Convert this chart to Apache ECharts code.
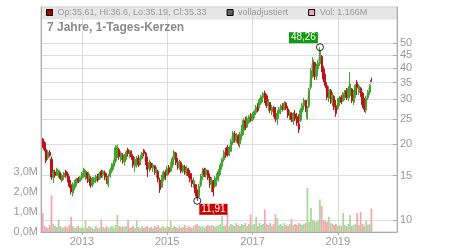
<!DOCTYPE html>
<html><head><meta charset="utf-8">
<script src="https://cdn.jsdelivr.net/npm/echarts@6/dist/echarts.min.js"></script>
<style>html,body{margin:0;padding:0;background:#fff}#c{width:450px;height:250px}</style>
</head><body><div id="c"></div>
<script>
const dates = [
'2012-02-01','2012-02-16','2012-03-01','2012-03-16','2012-04-01','2012-04-16','2012-05-01','2012-05-16','2012-06-01','2012-06-16','2012-07-01','2012-07-16','2012-08-01','2012-08-16','2012-09-01','2012-09-16','2012-10-01','2012-10-16','2012-11-01','2012-11-16','2012-12-01','2012-12-16',
'2013-01-01','2013-01-16','2013-02-01','2013-02-16','2013-03-01','2013-03-16','2013-04-01','2013-04-16','2013-05-01','2013-05-16','2013-06-01','2013-06-16','2013-07-01','2013-07-16','2013-08-01','2013-08-16','2013-09-01','2013-09-16','2013-10-01','2013-10-16','2013-11-01','2013-11-16','2013-12-01','2013-12-16',
'2014-01-01','2014-01-16','2014-02-01','2014-02-16','2014-03-01','2014-03-16','2014-04-01','2014-04-16','2014-05-01','2014-05-16','2014-06-01','2014-06-16','2014-07-01','2014-07-16','2014-08-01','2014-08-16','2014-09-01','2014-09-16','2014-10-01','2014-10-16','2014-11-01','2014-11-16','2014-12-01','2014-12-16',
'2015-01-01','2015-01-16','2015-02-01','2015-02-16','2015-03-01','2015-03-16','2015-04-01','2015-04-16','2015-05-01','2015-05-16','2015-06-01','2015-06-16','2015-07-01','2015-07-16','2015-08-01','2015-08-16','2015-09-01','2015-09-16','2015-10-01','2015-10-16','2015-11-01','2015-11-16','2015-12-01','2015-12-16',
'2016-01-01','2016-01-16','2016-02-01','2016-02-16','2016-03-01','2016-03-16','2016-04-01','2016-04-16','2016-05-01','2016-05-16','2016-06-01','2016-06-16','2016-07-01','2016-07-16','2016-08-01','2016-08-16','2016-09-01','2016-09-16','2016-10-01','2016-10-16','2016-11-01','2016-11-16','2016-12-01','2016-12-16',
'2017-01-01','2017-01-16','2017-02-01','2017-02-16','2017-03-01','2017-03-16','2017-04-01','2017-04-16','2017-05-01','2017-05-16','2017-06-01','2017-06-16','2017-07-01','2017-07-16','2017-08-01','2017-08-16','2017-09-01','2017-09-16','2017-10-01','2017-10-16','2017-11-01','2017-11-16','2017-12-01','2017-12-16',
'2018-01-01','2018-01-16','2018-02-01','2018-02-16','2018-03-01','2018-03-16','2018-04-01','2018-04-16','2018-05-01','2018-05-16','2018-06-01','2018-06-16','2018-07-01','2018-07-16','2018-08-01','2018-08-16','2018-09-01','2018-09-16','2018-10-01','2018-10-16','2018-11-01','2018-11-16','2018-12-01','2018-12-16',
'2019-01-01','2019-01-16','2019-02-01','2019-02-16','2019-03-01','2019-03-16','2019-04-01','2019-04-16','2019-05-01','2019-05-16','2019-06-01','2019-06-16','2019-07-01','2019-07-16','2019-08-01','2019-08-16','2019-09-01','2019-09-16','2019-10-01','2019-10-16'
];
// [open, close, low, high]
const candles = [
[20.9,19.5,19.3,21.1],[20.2,19.0,18.7,20.5],[19.0,17.2,16.8,19.4],[17.6,18.6,17.3,18.9],[18.5,18.0,17.8,18.9],[17.4,14.8,14.4,17.8],[14.7,15.5,14.0,15.8],[15.5,15.0,14.7,15.8],[15.0,15.9,14.9,16.1],[15.2,15.7,14.7,15.8],[15.3,14.6,14.4,15.5],[14.3,15.0,14.1,15.2],[14.8,15.3,14.4,15.5],[15.6,15.0,14.7,15.8],[15.2,14.4,14.1,15.5],[14.6,13.6,13.4,14.9],[13.8,12.9,12.6,14.4],[12.8,13.8,12.4,14.1],[13.4,14.1,13.1,14.4],[14.0,14.5,13.6,14.7],[14.6,14.2,14.0,14.8],[14.2,14.7,14.1,14.9],
[14.6,15.3,14.4,15.5],[15.4,15.9,14.7,16.1],[14.8,15.6,14.4,15.8],[15.4,14.6,14.0,15.5],[14.6,15.2,14.1,15.5],[14.6,13.7,13.4,14.9],[13.7,14.5,13.5,14.8],[14.1,14.6,13.8,14.8],[14.3,14.9,14.0,15.1],[14.9,14.4,14.1,15.2],[14.6,15.3,14.4,15.5],[15.6,15.0,14.7,15.8],[15.1,15.6,14.7,15.8],[15.4,14.8,14.4,15.7],[14.9,14.1,13.9,15.3],[13.8,14.9,13.5,15.2],[14.9,15.8,14.7,16.1],[15.6,16.6,15.3,16.8],[16.3,17.0,15.8,17.3],[17.1,19.3,16.8,19.8],[18.0,19.5,17.6,19.9],[19.0,17.8,17.3,19.3],[17.3,18.4,17.0,18.7],[18.1,17.2,16.7,18.4],
[17.0,18.0,16.4,18.2],[17.5,18.6,17.3,18.9],[19.0,18.3,17.8,19.3],[18.1,18.8,17.6,18.9],[18.6,17.8,17.3,18.9],[17.9,16.5,16.1,18.2],[16.3,17.4,15.5,17.8],[16.6,17.5,16.1,17.9],[17.6,16.5,16.2,18.1],[16.8,17.5,16.5,18.1],[17.5,18.4,17.3,18.6],[18.9,18.3,17.9,19.1],[18.4,16.9,16.5,18.6],[17.0,15.8,14.8,17.8],[15.9,16.9,15.5,17.3],[16.8,16.1,15.8,17.0],[16.1,16.5,15.5,16.8],[16.4,15.4,15.1,16.5],[15.5,15.9,14.7,16.2],[15.6,14.5,14.1,15.8],[14.4,13.2,12.8,14.7],[13.5,14.6,13.4,15.1],[14.5,15.4,14.2,15.7],[15.4,14.8,14.4,15.8],
[15.0,16.0,14.9,16.4],[16.1,15.4,15.1,16.5],[15.6,16.7,15.5,17.0],[16.5,17.5,16.1,17.8],[17.4,18.6,17.0,18.9],[18.4,16.9,16.5,18.6],[16.9,16.2,15.8,17.6],[16.1,17.0,15.8,17.3],[16.9,15.6,15.3,17.1],[15.6,16.4,15.3,16.6],[16.2,15.4,15.1,16.5],[15.3,16.0,14.9,16.4],[15.9,15.0,14.7,16.1],[15.3,14.5,14.1,15.8],[14.4,13.9,13.5,15.3],[13.7,14.3,13.4,14.7],[13.8,12.8,12.4,13.9],[12.8,12.2,11.91,13.2],[12.4,13.6,12.3,13.9],[13.7,14.9,13.5,15.2],[14.8,15.8,14.4,16.1],[15.9,15.1,14.8,16.1],[15.1,15.8,14.7,16.1],[15.7,14.7,14.4,15.8],
[14.8,13.9,13.4,15.3],[13.8,14.4,12.9,14.8],[14.2,12.9,12.4,14.4],[13.6,14.6,13.4,14.9],[14.4,15.0,13.6,15.3],[14.9,15.6,14.2,15.9],[15.5,16.5,15.1,16.8],[16.3,17.3,15.8,17.6],[17.3,18.6,17.0,18.9],[18.6,18.0,17.6,19.3],[19.4,18.1,17.8,19.8],[18.3,19.3,17.9,19.6],[18.7,20.5,18.6,20.9],[20.2,22.1,19.8,22.5],[21.9,20.6,20.2,22.5],[20.6,21.7,20.2,22.1],[21.6,20.1,19.6,21.9],[20.0,21.8,19.3,22.3],[21.5,23.3,20.7,23.8],[22.6,24.8,21.7,25.3],[24.7,23.2,22.7,25.6],[23.3,25.2,23.1,25.8],[24.3,25.6,24.0,26.0],[25.5,24.8,24.4,26.5],
[24.9,26.2,24.6,26.7],[25.7,26.9,25.3,27.2],[26.5,28.0,26.0,28.5],[28.2,27.1,26.7,29.0],[27.9,29.9,27.7,30.4],[29.0,30.7,28.5,31.2],[30.5,31.6,29.3,32.1],[31.8,29.7,29.0,32.5],[31.0,28.4,27.7,31.5],[28.3,29.6,27.0,30.1],[29.2,27.2,26.5,29.3],[26.8,27.9,26.0,28.5],[27.9,26.2,25.6,28.2],[26.3,25.1,24.4,28.0],[24.9,26.5,23.8,27.2],[26.4,27.4,25.1,28.0],[27.3,28.3,26.2,28.7],[28.6,27.4,26.9,29.0],[27.6,29.0,27.2,29.5],[29.0,27.7,27.2,29.3],[27.5,25.9,25.3,28.2],[25.4,26.7,24.9,27.2],[26.4,24.9,24.4,26.7],[24.5,26.2,23.8,26.7],
[26.3,25.2,24.6,27.2],[25.6,24.2,23.6,26.5],[24.0,22.8,22.1,26.2],[24.8,27.1,24.4,27.7],[26.7,28.4,26.0,29.0],[28.3,29.8,27.2,30.4],[29.7,27.4,26.7,29.8],[25.2,27.5,24.9,28.2],[28.2,32.6,27.7,33.3],[33.5,39.0,32.7,39.9],[38.0,43.0,36.4,44.1],[42.0,37.0,35.8,42.2],[36.8,40.4,35.8,41.4],[39.6,41.8,37.1,42.9],[41.5,46.5,40.6,48.26],[44.3,39.5,38.5,44.9],[39.6,36.1,35.1,40.6],[36.2,34.0,33.3,37.8],[34.0,30.6,29.8,35.1],[30.3,32.8,29.3,33.9],[32.5,29.6,28.8,33.0],[29.2,31.2,28.2,32.1],[30.8,28.0,27.2,31.2],[28.3,26.4,25.6,29.8],
[27.6,29.8,27.2,30.4],[29.4,30.4,28.2,31.0],[30.6,29.2,28.7,31.2],[29.5,31.6,29.3,32.1],[31.2,32.3,29.8,32.7],[32.5,30.5,29.8,33.3],[30.3,33.1,29.5,33.9],[31.0,34.5,30.4,38.5],[33.0,29.6,29.0,33.3],[29.2,31.5,28.5,32.7],[31.0,34.2,30.4,34.5],[35.0,33.4,31.2,35.8],[32.0,33.9,31.2,34.5],[33.2,31.4,30.7,33.6],[31.8,28.6,27.7,32.1],[28.5,27.4,26.7,30.4],[27.2,30.2,26.5,31.0],[30.4,32.2,29.8,32.7],[32.0,34.1,31.2,34.5],[35.61,35.33,35.19,36.6]
];
// volume in millions
const volumes = [
0.95,0.3,0.25,0.2,0.35,1.83,0.4,0.3,0.25,0.62,0.3,0.2,0.25,0.3,0.2,0.35,0.76,0.3,0.2,0.25,0.3,0.2,
0.25,0.2,0.55,0.2,0.3,0.25,0.2,0.15,0.3,0.2,0.2,0.6,0.25,0.2,0.3,0.2,0.25,0.3,0.2,0.35,0.85,0.3,0.25,0.3,
0.25,0.3,0.6,0.2,0.25,0.3,0.2,0.58,0.25,0.2,0.3,0.2,0.25,0.3,0.2,0.25,0.2,0.3,0.25,0.35,0.2,0.25,0.3,0.2,
0.3,0.25,0.55,0.2,0.3,0.25,0.2,0.3,0.2,0.25,0.35,0.2,0.3,0.25,0.2,0.3,0.35,0.4,0.3,0.25,0.3,0.2,0.3,0.35,
0.3,0.35,0.3,0.25,0.3,0.35,0.4,0.8,0.3,0.35,0.92,0.3,0.4,0.35,0.3,0.45,0.35,0.3,0.4,0.35,0.45,0.3,0.4,0.88,
0.35,0.4,0.75,0.3,0.45,0.35,0.4,1.12,0.4,0.35,0.45,0.3,0.4,0.88,0.7,0.35,0.4,0.3,0.45,0.35,0.3,0.4,0.65,0.35,
0.4,0.35,0.45,0.4,0.35,0.4,0.45,2.2,0.5,1.2,0.6,0.55,0.5,0.6,1.63,1.3,0.6,0.55,0.5,0.75,0.45,0.4,0.35,0.4,
0.3,0.35,0.3,0.95,0.35,0.3,0.4,0.85,0.3,0.35,0.4,0.95,0.35,1.0,0.4,0.3,0.55,0.35,0.4,1.166
];
const yearTicks = ['2013-01-01','2015-01-01','2017-01-01','2019-01-01'];
const priceTicks = [10,15,20,25,30,35,40,45,50];
const volumeTicks = [0,1,2,3];
const titleText = '7 Jahre, 1-Tages-Kerzen';
const legendNames = ['Op:35.61, Hi:36.6, Lo:35.19, Cl:35.33','volladjustiert','Vol: 1.166M'];
const highPoint = {date:'2018-08-01', value:48.26};
const lowPoint = {date:'2015-09-16', value:11.91};

const ts = d => Date.UTC(+d.slice(0,4), +d.slice(5,7) - 1, +d.slice(8,10));
const fmtDE = v => v.toFixed(2).replace('.', ',');
const UP = '#3fa52f', DOWN = '#c01018';

const chart = echarts.init(document.getElementById('c'), null, {renderer:'canvas'});
chart.setOption({
  animation:false,
  textStyle:{fontFamily:'Liberation Sans, Arial, sans-serif'},
  graphic:[{type:'rect', z:-10, shape:{x:41.5, y:7.5, width:356, height:12}, style:{fill:'#e6e6e6'}}],
  title:{text:titleText, left:47, top:22, padding:0, textStyle:{fontSize:12, fontWeight:'bold', color:'#8a8a8a'}},
  legend:{left:46, top:8, padding:0, itemWidth:6, itemHeight:6, itemGap:20, icon:'rect', selectedMode:false,
    textStyle:{fontSize:9, color:'#999'},
    data:[
      {name:legendNames[0], itemStyle:{color:'#a80000', borderColor:'#000', borderWidth:1}},
      {name:legendNames[1], itemStyle:{color:'#606060', borderColor:'#000', borderWidth:1}},
      {name:legendNames[2], itemStyle:{color:'#f2a8b0', borderColor:'#000', borderWidth:1}}
    ]},
  grid:{left:41, right:53, top:7, bottom:18, show:true, borderColor:'#c8c8c8', borderWidth:1},
  xAxis:{type:'value', min:ts('2012-01-17'), max:ts('2020-05-22'), scale:true,
    axisLine:{show:true, lineStyle:{color:'#aaa'}},
    axisTick:{show:true, length:3, customValues:yearTicks.map(ts), lineStyle:{color:'#aaa'}},
    axisLabel:{customValues:yearTicks.map(ts), formatter:v => String(new Date(v).getUTCFullYear()), color:'#999', fontSize:11, margin:4},
    splitLine:{show:true, lineStyle:{color:'#ddd'}}},
  yAxis:[
    {type:'log', logBase:10, position:'right', min:8.966, max:69.6,
      axisLine:{show:true, lineStyle:{color:'#aaa'}},
      axisTick:{show:true, inside:true, length:4, customValues:priceTicks, lineStyle:{color:'#aaa'}},
      axisLabel:{customValues:priceTicks, color:'#999', fontSize:11, margin:3},
      splitLine:{show:true, lineStyle:{color:'#ddd'}}},
    {type:'value', position:'left', min:0, max:11.25,
      axisLine:{show:true, lineStyle:{color:'#aaa'}},
      axisTick:{show:false},
      axisLabel:{customValues:volumeTicks, formatter:v => v.toFixed(1).replace('.', ',') + 'M', color:'#999', fontSize:11, margin:3},
      splitLine:{show:false}}
  ],
  series:[
    {name:legendNames[2], type:'bar', yAxisIndex:1, barWidth:1.8, z:1,
      data:dates.map((d,i) => [ts(d), volumes[i]]),
      itemStyle:{color:p => candles[p.dataIndex][1] >= candles[p.dataIndex][0] ? '#a8da9e' : '#f2a8b0'}},
    {name:legendNames[1], type:'line', yAxisIndex:0, z:2, showSymbol:false, symbol:'none',
      lineStyle:{color:'#b4b4b4', width:1},
      data:dates.map((d,i) => [ts(d), candles[i][1]])},
    {name:legendNames[0], type:'candlestick', yAxisIndex:0, z:3, barWidth:1.6,
      encode:{x:0, y:[1,2,3,4]},
      itemStyle:{color:UP, color0:DOWN, borderColor:UP, borderColor0:DOWN, borderWidth:1},
      data:dates.map((d,i) => [ts(d)].concat(candles[i])),
      markPoint:{symbol:'circle', symbolSize:7, silent:true,
        itemStyle:{color:'rgba(255,255,255,0)', borderColor:'#222', borderWidth:1},
        data:[
          {coord:[ts(highPoint.date), highPoint.value], value:highPoint.value,
            label:{show:true, formatter:fmtDE(highPoint.value), position:[2,0], align:'right', verticalAlign:'bottom',
              backgroundColor:'#129a12', color:'#fff', fontSize:10, lineHeight:11, padding:[0,2]}},
          {coord:[ts(lowPoint.date), lowPoint.value], value:lowPoint.value,
            label:{show:true, formatter:fmtDE(lowPoint.value), position:[6,7], align:'left', verticalAlign:'top',
              backgroundColor:'#cc0000', color:'#fff', fontSize:10, lineHeight:11, padding:[0,2]}}
        ]}}
  ]
});
</script></body></html>
